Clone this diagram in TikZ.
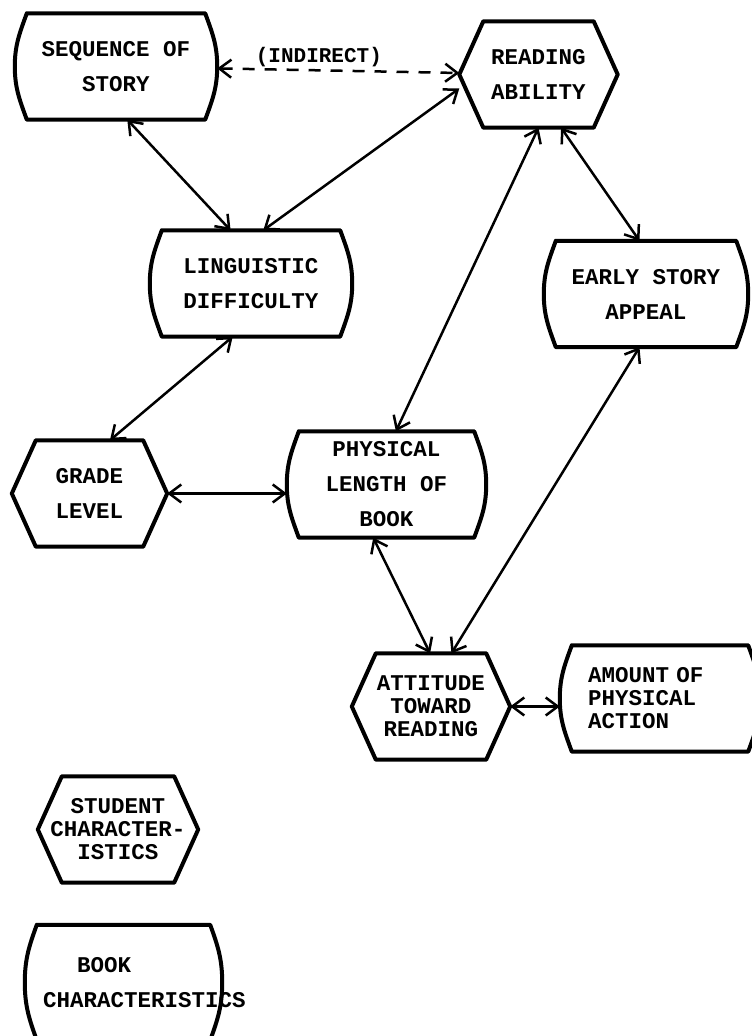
\documentclass[tikz,border=0pt]{standalone}
\usepackage{fontspec}
\setmonofont{Liberation Mono}
\usetikzlibrary{arrows.meta,calc,positioning}

\begin{document}
\begin{tikzpicture}[>={Straight Barb[length=12pt,width=18pt]}]

	\tikzstyle{box}=[inner sep=0pt,align=center,font=\ttfamily\bfseries\fontsize{22.5}{35}\selectfont]
	\tikzstyle{tight}=[font=\ttfamily\bfseries\fontsize{22.5}{23}\selectfont]
	\tikzstyle{outline}=[line width=4pt,line join=round,line cap=round]
	\tikzstyle{barrel}=[box,minimum width=202pt,minimum height=106pt,
		append after command={\pgfextra{\draw[outline]
			($(\tikzlastnode.north west)+(12pt,0)$) -- ($(\tikzlastnode.north east)+(-12pt,0)$)
			to[out=-70,in=90] (\tikzlastnode.east)
			to[out=-90,in=70] ($(\tikzlastnode.south east)+(-12pt,0)$)
			-- ($(\tikzlastnode.south west)+(12pt,0)$)
			to[out=110,in=-90] (\tikzlastnode.west)
			to[out=90,in=-110] ($(\tikzlastnode.north west)+(12pt,0)$);}}]
	\tikzstyle{hexa}=[box,minimum width=158pt,minimum height=106pt,
		append after command={\pgfextra{\draw[outline]
			($(\tikzlastnode.north west)+(24pt,0)$) -- ($(\tikzlastnode.north east)+(-24pt,0)$)
			-- (\tikzlastnode.east) -- ($(\tikzlastnode.south east)+(-24pt,0)$)
			-- ($(\tikzlastnode.south west)+(24pt,0)$) -- (\tikzlastnode.west) -- cycle;}}]
	\tikzstyle{link}=[<->,line width=2.5pt]

	\useasboundingbox (0pt,0pt) rectangle (752pt,1036pt);

	\node [barrel] (seq)   at (116pt,969.5pt)   {SEQUENCE OF\\STORY};
	\node [hexa]   (read)  at (538.5pt,961.5pt) {READING\\ABILITY};
	\node [barrel] (ling)  at (251pt,752.5pt)   {LINGUISTIC\\DIFFICULTY};
	\node [barrel] (early) [minimum width=204pt] at (646pt,742pt) {EARLY STORY\\APPEAL};
	\node [hexa]   (grade) [minimum width=155pt] at (89.5pt,542.5pt) {GRADE\\LEVEL};
	\node [barrel] (phys)  [minimum width=199pt] at (386.5pt,551.5pt) {PHYSICAL\\LENGTH OF\\BOOK};
	\node [hexa]   (att)   [tight] at (431pt,329.5pt) {ATTITUDE\\TOWARD\\READING};
	\node [barrel] (amt)   [tight,text width=144pt,align=left,minimum width=200pt] at (660pt,337.5pt) {AMOUNT OF\\PHYSICAL\\ACTION};
	\node [hexa]   (stud)  [tight,minimum width=160pt] at (118pt,206.5pt) {STUDENT\\CHARACTER-\\ISTICS};
	\node [barrel] (book)  [text width=161pt,align=left,minimum width=197pt,minimum height=115pt] at (123.5pt,53.5pt) {\hspace*{34pt}BOOK\\CHARACTERISTICS};

	\path [link] (seq) edge [dash pattern=on 12pt off 10pt] node [pos=0.42,above=-1pt,font=\ttfamily\bfseries\fontsize{21}{23}\selectfont] {(INDIRECT)} (read)
		(seq.-78) edge (ling.111)
		(ling.77) edge (read.190)
		(read.-90) edge (phys.80)
		(read.-67) edge (early.97)
		(ling.-109) edge (grade.69)
		(grade.east) edge (grade.east -| phys.west)
		(phys.-104) edge (att.91)
		(early.-97) edge (att.69)
		(att.east) edge (att.east -| amt.west);
\end{tikzpicture}
\end{document}
